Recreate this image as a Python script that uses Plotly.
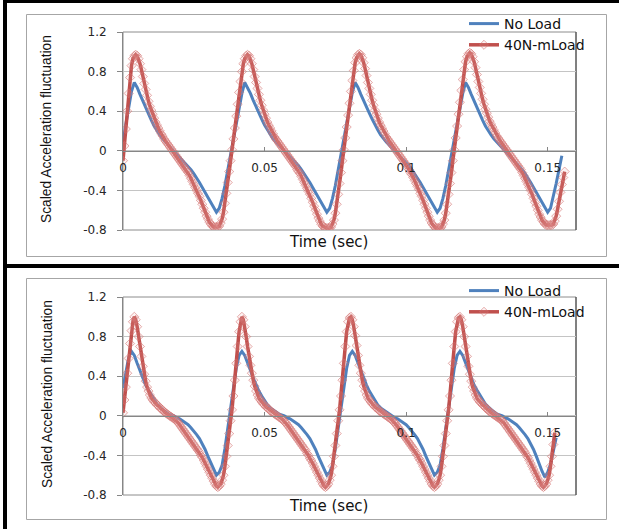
import numpy as np
import plotly.graph_objects as go

W, H = 619, 529

# Sampling interval of each recorded series (s)
STEP_NO_LOAD = 0.001
STEP_LOAD = 0.0005

# ---- upper chart -------------------------------------------------------
no_load_a = [
    0.10, 0.28, 0.45, 0.60, 0.69,
    0.64, 0.57, 0.50, 0.43, 0.37, 0.31, 0.25, 0.20, 0.16, 0.12,
    0.09, 0.06, 0.03, 0.00, -0.03, -0.06, -0.09, -0.12, -0.15, -0.19,
    -0.23, -0.27, -0.32, -0.37, -0.42, -0.47, -0.53, -0.58, -0.62,
    -0.58, -0.48, -0.35, -0.19, -0.03, 0.13, 0.28, 0.43, 0.58, 0.69,
    0.64, 0.58, 0.51, 0.44, 0.38, 0.32, 0.26, 0.21, 0.16, 0.12,
    0.09, 0.06, 0.03, 0.01, -0.02, -0.05, -0.08, -0.11, -0.15, -0.19,
    -0.23, -0.27, -0.32, -0.37, -0.42, -0.47, -0.53, -0.58, -0.62,
    -0.58, -0.48, -0.35, -0.19, -0.03, 0.13, 0.28, 0.44, 0.59, 0.69,
    0.64, 0.57, 0.50, 0.44, 0.38, 0.32, 0.26, 0.21, 0.16, 0.12,
    0.09, 0.06, 0.03, 0.01, -0.02, -0.05, -0.08, -0.11, -0.15, -0.19,
    -0.23, -0.27, -0.32, -0.37, -0.42, -0.47, -0.53, -0.58, -0.62,
    -0.58, -0.48, -0.35, -0.19, -0.03, 0.13, 0.28, 0.43, 0.58, 0.69,
    0.64, 0.57, 0.50, 0.43, 0.37, 0.31, 0.25, 0.20, 0.16, 0.12,
    0.09, 0.06, 0.03, 0.00, -0.03, -0.06, -0.09, -0.12, -0.15, -0.19,
    -0.23, -0.27, -0.32, -0.37, -0.42, -0.47, -0.53, -0.58, -0.62,
    -0.58, -0.47, -0.33, -0.19, -0.05,
]

load_a = [
    -0.10, 0.05, 0.22, 0.40, 0.58, 0.74, 0.86, 0.93, 0.96, 0.97,
    0.96, 0.93, 0.88, 0.82, 0.75, 0.68, 0.62, 0.56, 0.50, 0.45,
    0.41, 0.37, 0.33, 0.29, 0.26, 0.23, 0.20, 0.17, 0.15, 0.12,
    0.10, 0.08, 0.06, 0.04, 0.02, 0.00, -0.02, -0.04, -0.06, -0.08,
    -0.10, -0.12, -0.14, -0.16, -0.18, -0.20, -0.22, -0.25, -0.28, -0.31,
    -0.34, -0.37, -0.40, -0.43, -0.46, -0.50, -0.54, -0.58, -0.62, -0.66,
    -0.69, -0.72, -0.74, -0.76, -0.77, -0.77, -0.77, -0.77,
    -0.76, -0.73, -0.69, -0.62, -0.53, -0.43, -0.32, -0.21, -0.10, 0.01,
    0.12, 0.23, 0.35, 0.47, 0.59, 0.70, 0.80, 0.88, 0.93, 0.96, 0.97,
    0.96, 0.93, 0.88, 0.82, 0.75, 0.69, 0.63, 0.57, 0.51, 0.46,
    0.41, 0.37, 0.33, 0.29, 0.26, 0.23, 0.20, 0.17, 0.14, 0.12,
    0.10, 0.08, 0.06, 0.04, 0.02, 0.00, -0.02, -0.04, -0.06, -0.08,
    -0.10, -0.12, -0.14, -0.16, -0.19, -0.21, -0.23, -0.26, -0.29, -0.32,
    -0.35, -0.38, -0.41, -0.44, -0.48, -0.52, -0.56, -0.60, -0.64, -0.68,
    -0.71, -0.74, -0.76, -0.77, -0.78, -0.78, -0.78, -0.78,
    -0.77, -0.74, -0.70, -0.63, -0.54, -0.44, -0.33, -0.22, -0.10, 0.01,
    0.13, 0.24, 0.36, 0.48, 0.60, 0.71, 0.81, 0.89, 0.94, 0.97, 0.98,
    0.97, 0.94, 0.89, 0.83, 0.76, 0.69, 0.63, 0.57, 0.51, 0.46,
    0.41, 0.37, 0.33, 0.29, 0.26, 0.23, 0.20, 0.17, 0.14, 0.12,
    0.10, 0.08, 0.06, 0.04, 0.02, 0.00, -0.02, -0.04, -0.06, -0.08,
    -0.10, -0.12, -0.14, -0.17, -0.19, -0.22, -0.24, -0.27, -0.30, -0.33,
    -0.36, -0.39, -0.43, -0.46, -0.50, -0.54, -0.58, -0.62, -0.66, -0.70,
    -0.73, -0.75, -0.77, -0.78, -0.78, -0.78, -0.78,
    -0.77, -0.74, -0.70, -0.63, -0.54, -0.44, -0.33, -0.22, -0.10, 0.01,
    0.13, 0.25, 0.37, 0.49, 0.61, 0.72, 0.82, 0.90, 0.95, 0.98, 0.99,
    0.98, 0.95, 0.90, 0.84, 0.77, 0.70, 0.64, 0.58, 0.52, 0.47,
    0.42, 0.38, 0.34, 0.30, 0.27, 0.24, 0.21, 0.18, 0.15, 0.13,
    0.11, 0.09, 0.07, 0.05, 0.03, 0.01, -0.01, -0.03, -0.05, -0.07,
    -0.09, -0.11, -0.13, -0.15, -0.17, -0.19, -0.22, -0.25, -0.28, -0.31,
    -0.34, -0.37, -0.40, -0.44, -0.48, -0.52, -0.56, -0.60, -0.64, -0.67,
    -0.70, -0.72, -0.74, -0.75, -0.75, -0.75, -0.75, -0.75,
    -0.74, -0.71, -0.66, -0.59, -0.51, -0.42, -0.34, -0.27, -0.21,
]

# ---- lower chart -------------------------------------------------------
no_load_b = [
    0.28, 0.45, 0.59, 0.65,
    0.61, 0.53, 0.45, 0.38, 0.31, 0.26, 0.21, 0.16, 0.12, 0.09,
    0.06, 0.04, 0.02, 0.01, 0.00, -0.02, -0.03, -0.05, -0.07, -0.09,
    -0.12, -0.15, -0.19, -0.23, -0.28, -0.34, -0.41, -0.48, -0.55, -0.60,
    -0.57, -0.50, -0.33, -0.13, 0.09, 0.30, 0.48, 0.61, 0.65,
    0.61, 0.54, 0.46, 0.38, 0.31, 0.25, 0.20, 0.15, 0.11, 0.08,
    0.06, 0.04, 0.02, 0.01, 0.00, -0.02, -0.03, -0.05, -0.07, -0.09,
    -0.12, -0.15, -0.19, -0.23, -0.28, -0.34, -0.41, -0.48, -0.55, -0.60,
    -0.57, -0.50, -0.33, -0.13, 0.09, 0.30, 0.48, 0.61, 0.65,
    0.61, 0.53, 0.45, 0.38, 0.31, 0.25, 0.20, 0.15, 0.11, 0.08,
    0.06, 0.04, 0.02, 0.00, -0.02, -0.03, -0.05, -0.07, -0.09,
    -0.12, -0.15, -0.19, -0.23, -0.28, -0.34, -0.41, -0.48, -0.55, -0.60,
    -0.57, -0.50, -0.33, -0.13, 0.09, 0.30, 0.48, 0.61, 0.65,
    0.61, 0.53, 0.45, 0.38, 0.31, 0.26, 0.21, 0.16, 0.12, 0.09,
    0.06, 0.04, 0.02, 0.01, 0.00, -0.02, -0.03, -0.05, -0.07, -0.09,
    -0.12, -0.15, -0.19, -0.23, -0.28, -0.34, -0.41, -0.49, -0.56, -0.62,
    -0.57, -0.49, -0.36, -0.22,
]

load_b = [
    0.03, 0.16, 0.29, 0.43, 0.58, 0.73, 0.86, 0.95, 1.00,
    0.97, 0.90, 0.80, 0.70, 0.60, 0.50, 0.42, 0.35, 0.29, 0.25,
    0.21, 0.18, 0.16, 0.14, 0.13, 0.11, 0.10, 0.08, 0.07, 0.06,
    0.04, 0.03, 0.02, 0.01, 0.00, -0.01, -0.02, -0.03, -0.04, -0.05,
    -0.07, -0.09, -0.11, -0.13, -0.15, -0.17, -0.19, -0.21, -0.23, -0.25,
    -0.27, -0.29, -0.31, -0.33, -0.35, -0.37, -0.40, -0.42, -0.45, -0.48,
    -0.51, -0.54, -0.57, -0.60, -0.63, -0.66, -0.69, -0.71, -0.72,
    -0.71, -0.69, -0.65, -0.60, -0.51, -0.41, -0.30, -0.18, -0.05, 0.06,
    0.20, 0.36, 0.53, 0.70, 0.85, 0.95, 1.00,
    0.97, 0.90, 0.80, 0.70, 0.60, 0.51, 0.43, 0.36, 0.30, 0.25,
    0.21, 0.18, 0.16, 0.14, 0.12, 0.11, 0.09, 0.08, 0.07, 0.05,
    0.04, 0.03, 0.02, 0.01, 0.00, -0.01, -0.02, -0.03, -0.04, -0.06,
    -0.07, -0.09, -0.11, -0.13, -0.15, -0.17, -0.19, -0.21, -0.23, -0.25,
    -0.27, -0.29, -0.31, -0.33, -0.35, -0.38, -0.40, -0.43, -0.45, -0.48,
    -0.51, -0.54, -0.57, -0.60, -0.63, -0.66, -0.69, -0.71, -0.72,
    -0.71, -0.69, -0.65, -0.60, -0.51, -0.41, -0.30, -0.18, -0.05, 0.06,
    0.20, 0.36, 0.53, 0.70, 0.85, 0.95, 0.99, 1.00,
    0.97, 0.90, 0.81, 0.71, 0.61, 0.51, 0.43, 0.36, 0.30, 0.25,
    0.21, 0.18, 0.16, 0.14, 0.12, 0.11, 0.09, 0.08, 0.07, 0.05,
    0.04, 0.03, 0.02, 0.01, 0.00, -0.01, -0.02, -0.03, -0.04, -0.06,
    -0.07, -0.09, -0.11, -0.13, -0.15, -0.17, -0.19, -0.21, -0.23, -0.25,
    -0.27, -0.29, -0.31, -0.33, -0.35, -0.38, -0.40, -0.43, -0.45, -0.48,
    -0.51, -0.54, -0.57, -0.60, -0.63, -0.66, -0.69, -0.71, -0.72,
    -0.71, -0.69, -0.65, -0.60, -0.51, -0.41, -0.30, -0.18, -0.05, 0.06,
    0.20, 0.36, 0.53, 0.70, 0.85, 0.95, 0.99, 1.00,
    0.97, 0.90, 0.80, 0.70, 0.60, 0.50, 0.42, 0.35, 0.29, 0.25,
    0.21, 0.18, 0.16, 0.14, 0.13, 0.11, 0.10, 0.08, 0.07, 0.06,
    0.04, 0.03, 0.02, 0.01, 0.00, -0.01, -0.02, -0.03, -0.04, -0.05,
    -0.07, -0.09, -0.11, -0.13, -0.15, -0.17, -0.19, -0.21, -0.23, -0.25,
    -0.27, -0.29, -0.31, -0.33, -0.35, -0.37, -0.40, -0.42, -0.45, -0.48,
    -0.51, -0.54, -0.57, -0.60, -0.63, -0.66, -0.69, -0.71, -0.72,
    -0.71, -0.69, -0.65, -0.60, -0.51, -0.41, -0.29, -0.17,
]

series_names = ["No Load", "40N-mLoad"]
x_tick_vals = [0, 0.05, 0.1, 0.15]
x_tick_text = ["0", "0.05", "0.1", "0.15"]
y_tick_vals = [-0.8, -0.4, 0, 0.4, 0.8, 1.2]
y_tick_text = ["-0.8", "-0.4", "0", "0.4", "0.8", "1.2"]
x_title = "Time (sec)"
y_title = "Scaled Acceleration fluctuation"
X_RANGE = [0, 0.16]
Y_RANGE = [-0.8, 1.2]

BLUE = "#4F81BD"
RED = "#C0504D"
TICK_FONT = dict(family="DejaVu Sans", size=12, color="#262626")


def fx(p):
    return p / W


def fy(p):
    return 1 - p / H


def times(values, step):
    return np.arange(len(values)) * step


# pixel boxes of the two plot areas (left, top, right, bottom)
panels = [
    dict(box=(123, 32, 576, 230), frame=(26, 14, 606, 256),
         nl=no_load_a, ld=load_a, xt=242, leg=8),
    dict(box=(123, 297, 576, 495), frame=(26, 278, 606, 519),
         nl=no_load_b, ld=load_b, xt=506, leg=275),
]

fig = go.Figure()
layout = dict(
    width=W, height=H, margin=dict(l=0, r=0, t=0, b=0, autoexpand=False),
    paper_bgcolor="white", plot_bgcolor="white", showlegend=True,
    shapes=[], annotations=[],
)

for i, p in enumerate(panels):
    n = "" if i == 0 else str(i + 1)
    l, t, r, b = p["box"]
    ydom = [fy(b), fy(t)]
    xdom = [fx(l), fx(r)]
    zero_pos = ydom[0] + (0 - Y_RANGE[0]) / (Y_RANGE[1] - Y_RANGE[0]) * (ydom[1] - ydom[0])
    leg = "legend" + n

    fig.add_trace(go.Scatter(
        x=times(p["nl"], STEP_NO_LOAD), y=p["nl"], name=series_names[0],
        mode="lines", line=dict(color=BLUE, width=3),
        xaxis="x" + n, yaxis="y" + n, legend=leg, hoverinfo="skip",
    ))
    fig.add_trace(go.Scatter(
        x=times(p["ld"], STEP_LOAD), y=p["ld"], name=series_names[1],
        mode="lines+markers", line=dict(color=RED, width=3.5),
        marker=dict(symbol="diamond", size=7, color="rgba(235,170,168,0.15)",
                    line=dict(color="rgba(210,110,107,0.55)", width=1)),
        xaxis="x" + n, yaxis="y" + n, legend=leg, hoverinfo="skip",
    ))

    layout["xaxis" + n] = dict(
        domain=xdom, range=X_RANGE, anchor="free", position=zero_pos,
        showline=True, linecolor="#868686", linewidth=1,
        ticks="inside", ticklen=4, tickcolor="#868686",
        tickvals=x_tick_vals, ticktext=x_tick_text, tickfont=TICK_FONT,
        ticklabelstandoff=6, showgrid=False, zeroline=False, fixedrange=True,
        automargin=False,
    )
    layout["yaxis" + n] = dict(
        domain=ydom, range=Y_RANGE, anchor="x" + n,
        showline=True, linecolor="#868686", linewidth=1,
        ticks="outside", ticklen=5, tickcolor="#868686",
        tickvals=y_tick_vals, ticktext=y_tick_text, tickfont=TICK_FONT,
        ticklabelstandoff=8, showgrid=True, gridcolor="#c4c4c4", gridwidth=1,
        zeroline=False, fixedrange=True, automargin=False,
    )
    layout[leg] = dict(
        x=fx(464), y=fy(p["leg"]), xanchor="left", yanchor="top",
        bgcolor="rgba(0,0,0,0)", itemwidth=30, tracegroupgap=0,
        font=dict(family="DejaVu Sans", size=14, color="#111111"),
    )

    # chart-area border
    fl, ft, fr, fb = p["frame"]
    layout["shapes"].append(dict(
        type="rect", xref="paper", yref="paper",
        x0=fx(fl + 0.5), x1=fx(fr + 0.5), y0=fy(fb + 0.5), y1=fy(ft + 0.5),
        line=dict(color="#a6a6a6", width=1), layer="below",
    ))
    # plot-area outline
    layout["shapes"].append(dict(
        type="rect", xref="x" + n + " domain", yref="y" + n + " domain",
        x0=0, x1=1, y0=0, y1=1, line=dict(color="#8c8c8c", width=1), layer="below",
    ))
    layout["shapes"].append(dict(
        type="line", xref="x" + n + " domain", yref="y" + n + " domain",
        x0=1, x1=1, y0=0, y1=1, line=dict(color="#3c3c3c", width=1), layer="below",
    ))

    layout["annotations"].append(dict(
        text=x_title, xref="paper", yref="paper", x=fx(328), y=fy(p["xt"]),
        xanchor="center", yanchor="middle", showarrow=False,
        font=dict(family="DejaVu Sans", size=15, color="#111111"),
    ))
    layout["annotations"].append(dict(
        text=y_title, xref="paper", yref="paper", x=fx(47), y=(ydom[0] + ydom[1]) / 2 + 2 / H,
        xanchor="center", yanchor="middle", showarrow=False, textangle=-90,
        font=dict(family="Liberation Sans", size=13.8, color="#111111"),
    ))

# heavy black frame lines around and between the two charts
for x0, x1, y0, y1 in [(3, 7, 0, H), (3, W, 0, 3), (3, W, 264, 268)]:
    layout["shapes"].append(dict(
        type="rect", xref="paper", yref="paper",
        x0=fx(x0), x1=fx(x1), y0=fy(y1), y1=fy(y0),
        fillcolor="black", line=dict(width=0), layer="above",
    ))

fig.update_layout(**layout)
fig.write_html("out.html")
